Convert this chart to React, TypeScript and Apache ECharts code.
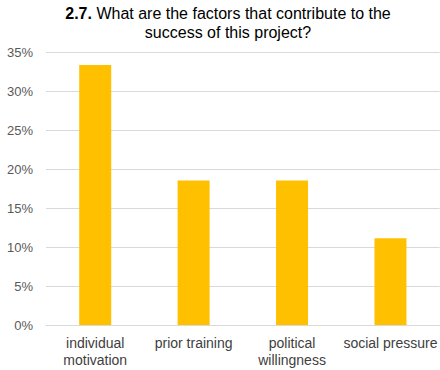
import React, { useEffect, useRef } from "react";
import * as echarts from "echarts";

const categories = ["individual\nmotivation", "prior training", "political\nwillingness", "social pressure"];
const values = [33.33, 18.52, 18.52, 11.11];
const titleNumber = "2.7.";
const titleLine1 = " What are the factors that contribute to the";
const titleLine2 = "success of this project?";

export default function App() {
  const ref = useRef<HTMLDivElement>(null);
  useEffect(() => {
    const chart = echarts.init(ref.current!, null, { renderer: "svg" });
    chart.setOption({
      animation: false,
      graphic: [
        {
          type: "text",
          x: 228,
          y: 4,
          style: {
            text: `{b|${titleNumber}}{n|${titleLine1}}\n{n|${titleLine2}}`,
            align: "center",
            verticalAlign: "top",
            rich: {
              b: { fontFamily: "Liberation Sans", fontSize: 16, fontWeight: "bold", fill: "#000", lineHeight: 19 },
              n: { fontFamily: "Liberation Sans", fontSize: 16, fill: "#000", lineHeight: 19 },
            },
          },
        },
      ],
      grid: { left: 46, right: -4, top: 52, bottom: 45, containLabel: false },
      xAxis: {
        type: "category",
        data: categories,
        axisLine: { lineStyle: { color: "#d9d9d9", width: 1 } },
        axisTick: { show: false },
        axisLabel: {
          interval: 0,
          color: "#404040",
          fontFamily: "Liberation Sans",
          fontSize: 14,
          lineHeight: 17,
          margin: 9,
        },
      },
      yAxis: {
        type: "value",
        min: 0,
        max: 35,
        interval: 5,
        axisLine: { show: false },
        axisTick: { show: false },
        splitLine: { lineStyle: { color: "#d9d9d9", width: 1 } },
        axisLabel: {
          formatter: "{value}%",
          color: "#595959",
          fontFamily: "Liberation Sans",
          fontSize: 13,
          margin: 13,
        },
      },
      series: [
        {
          type: "bar",
          data: values,
          barWidth: 32,
          itemStyle: { color: "#FFC000" },
        },
      ],
    });
    return () => chart.dispose();
  }, []);
  return (
    <div
      ref={ref}
      style={{ position: "absolute", left: 0, top: 0, width: 440, height: 370, background: "#fff" }}
    />
  );
}
